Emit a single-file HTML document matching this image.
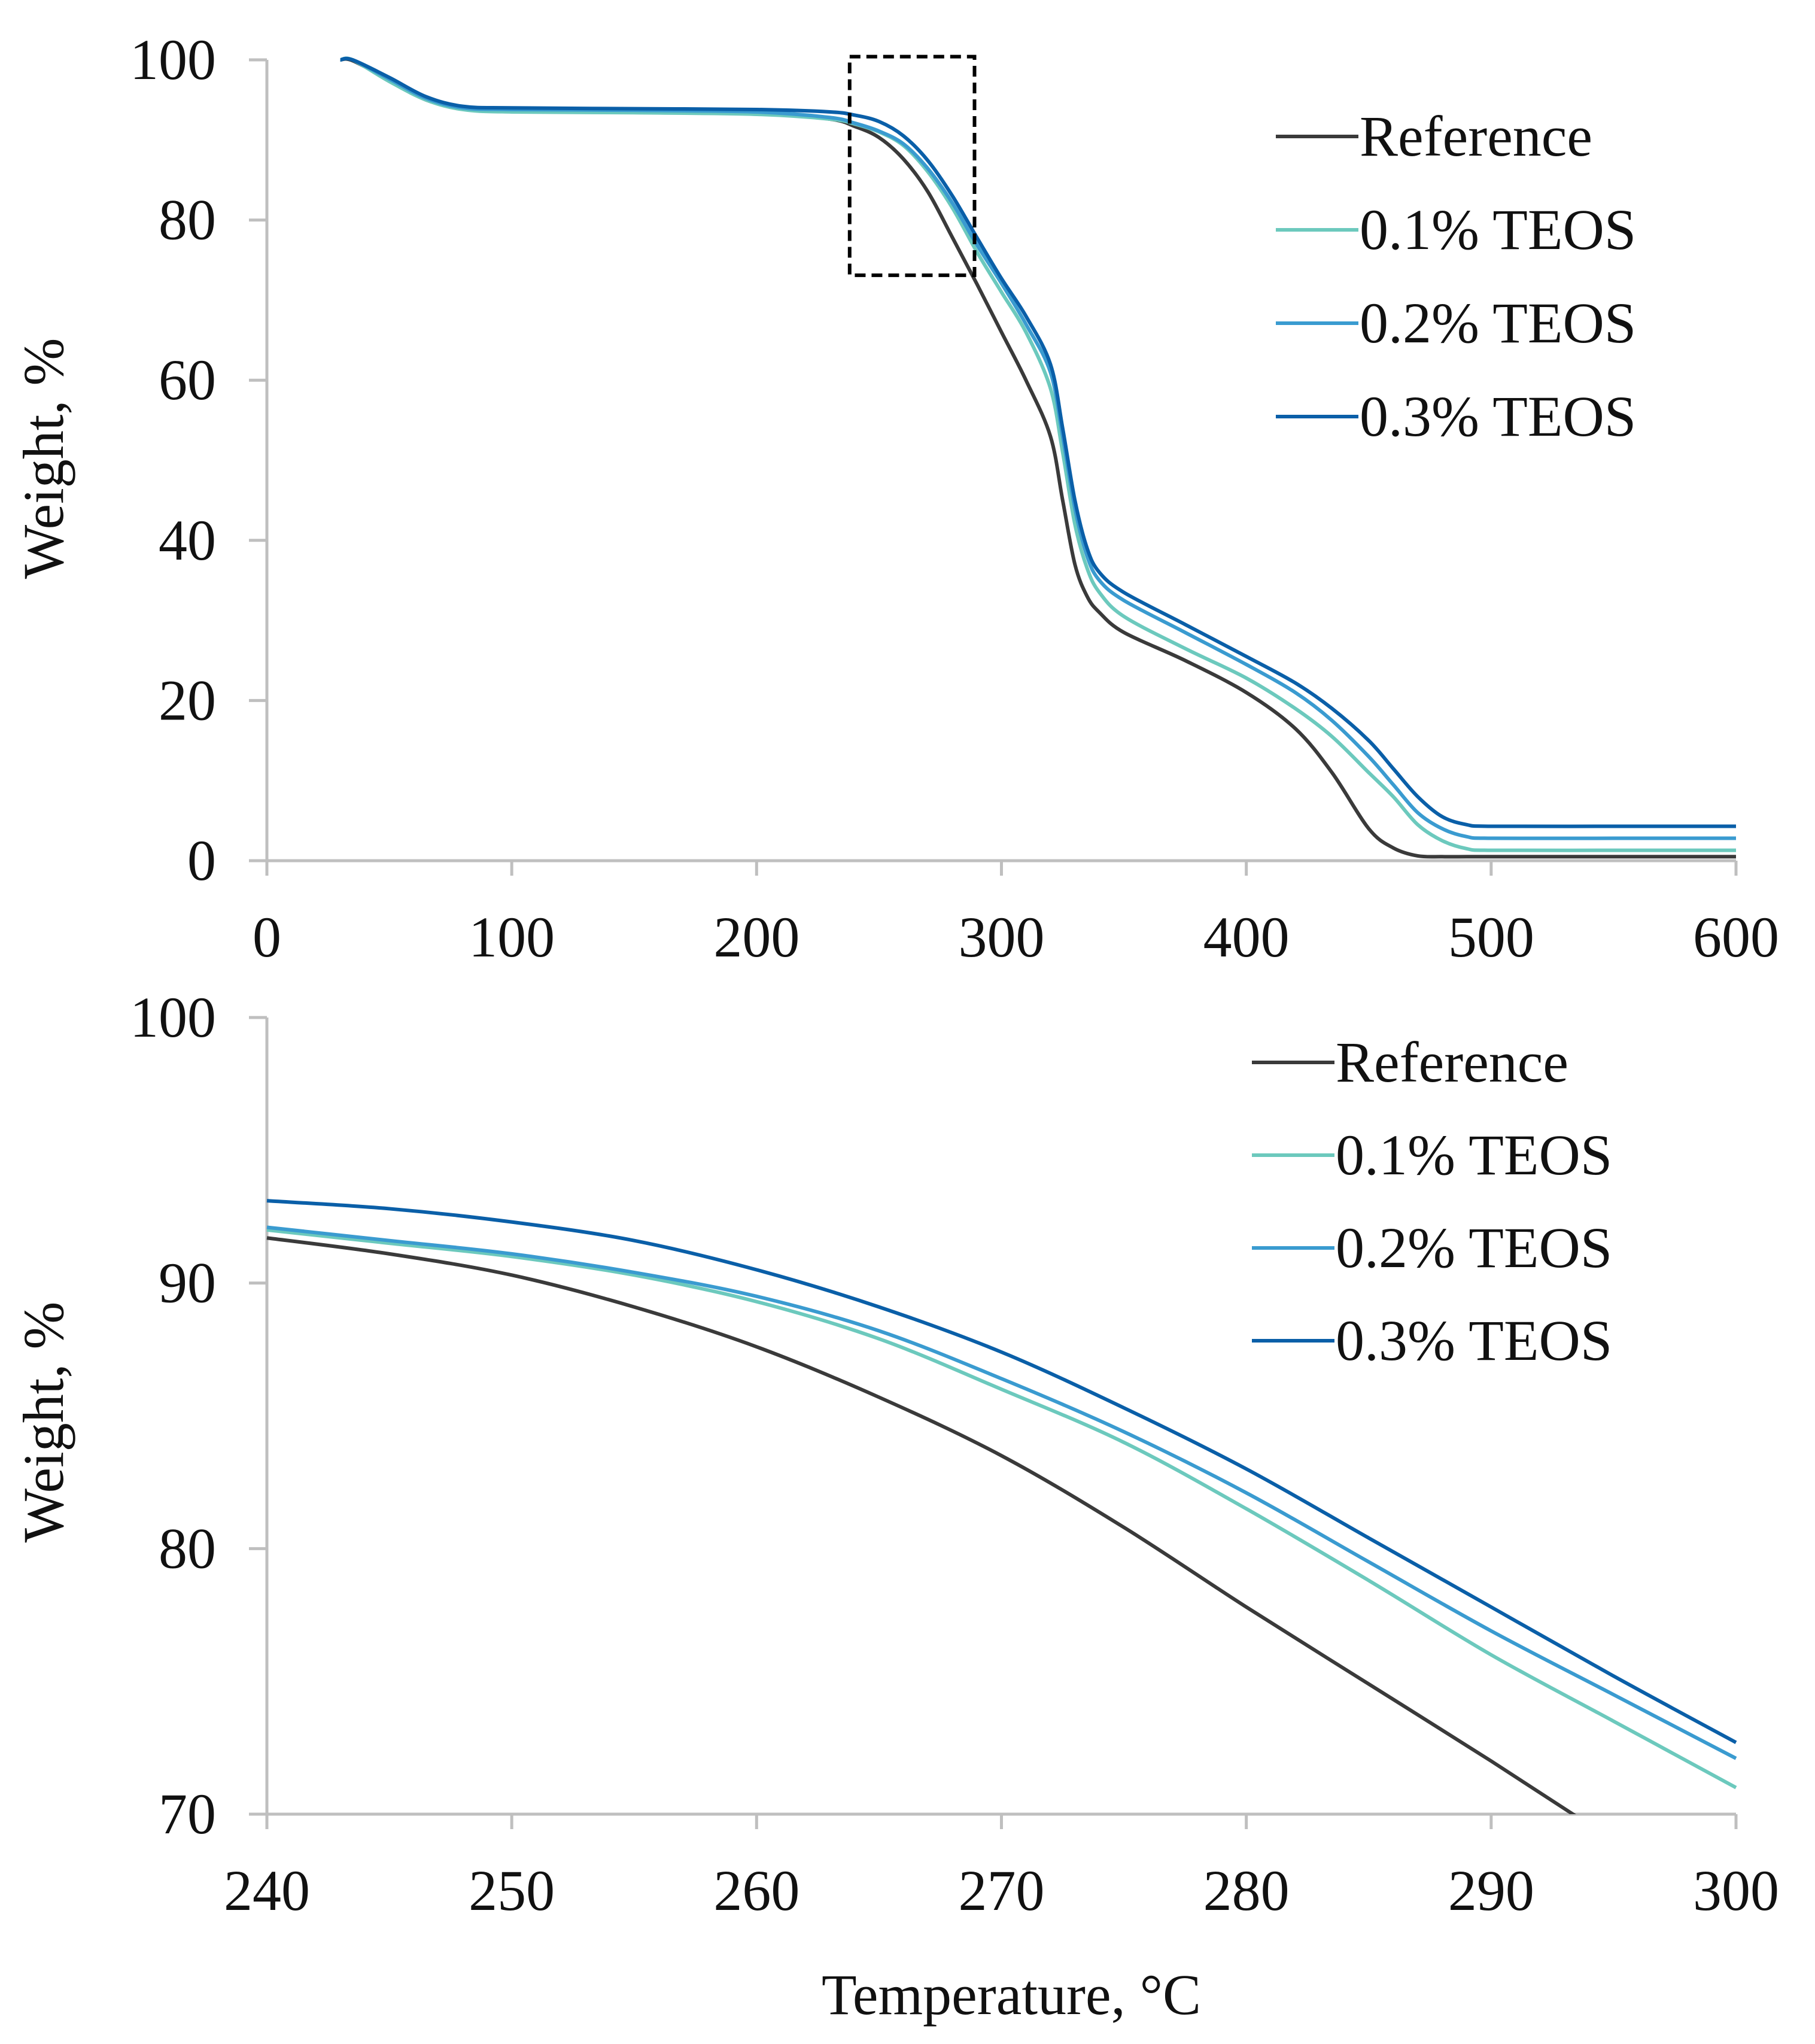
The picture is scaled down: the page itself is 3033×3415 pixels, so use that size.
<!DOCTYPE html>
<html><head><meta charset="utf-8"><style>
html,body{margin:0;padding:0;background:#fff}
svg{display:block}
text{font-family:"Liberation Serif",serif;fill:#111}
</style></head><body>
<svg id="fig" width="3033" height="3415" viewBox="0 0 3033 3415" xmlns="http://www.w3.org/2000/svg">
<defs><clipPath id="clipB"><rect x="440" y="1690" width="2480" height="1341"/></clipPath></defs>
<g id="top"></g>
<g id="bot"></g>
<text x="1690" y="3365" font-size="96" text-anchor="middle">Temperature, °C</text>
</svg>
<script>
const seriesNames = ["Reference","0.1% TEOS","0.2% TEOS","0.3% TEOS"];
const seriesColors = ["#3a3a3a","#6cc9bd","#3a9bd0","#0a5fa8"];
const topTemps = [30,35,50,65,80,100,150,200,230,240,250,260,270,280,290,300,310,320,325,330,335,340,350,375,400,420,435,450,460,470,480,490,500,550,600];
const topRef   = [100,99.9,97.5,95,94,93.8,93.6,93.4,92.6,91.7,90.3,87.6,83.5,77.8,72,66,60,53,45,37,33,31,28.5,25,21,16.5,11,4,1.6,0.6,0.5,0.5,0.5,0.5,0.5];
const top01    = [100,100,97.3,95,93.8,93.5,93.4,93.2,92.6,92,91,89.3,86,81.5,76,71,66,59,51,42,36.5,33.5,30.5,26.5,22.8,19,15.5,11,8,4.5,2.5,1.5,1.3,1.3,1.3];
const top02    = [100,100,97.6,95.2,94,93.8,93.7,93.5,92.8,92.1,91.1,89.5,86.4,82.1,76.9,72.1,67,61,53,44,38,35,32.5,28.5,24.5,21,17.5,13,9.5,6,4,3,2.8,2.8,2.8];
const top03    = [100,100,97.8,95.4,94.2,94,93.9,93.8,93.5,93.1,92.3,90.5,87.4,83,77.8,72.7,68,62,54,45,39,36,33.5,29.5,25.5,22.2,19,15,11.5,8,5.5,4.5,4.3,4.3,4.3];
const botTemps = [240,245,250,255,260,265,270,275,280,285,290,295,300];
const botRef   = [91.7,91.1,90.3,89.1,87.6,85.7,83.5,80.8,77.8,74.9,72,69,66];
const bot01    = [92,91.5,91,90.3,89.3,87.9,86,84,81.5,78.8,76,73.5,71];
const bot02    = [92.1,91.6,91.1,90.4,89.5,88.2,86.4,84.4,82.1,79.5,76.9,74.5,72.1];
const bot03    = [93.1,92.8,92.3,91.6,90.5,89.1,87.4,85.3,83,80.4,77.8,75.2,72.7];
const topXTicks = [0,100,200,300,400,500,600];
const topYTicks = [0,20,40,60,80,100];
const botXTicks = [240,250,260,270,280,290,300];
const botYTicks = [70,80,90,100];
const zoomBox = [238,289,73.1,100.4];

const NS="http://www.w3.org/2000/svg";
function mk(tag,attrs,parent){const e=document.createElementNS(NS,tag);for(const k in attrs)e.setAttribute(k,attrs[k]);parent.appendChild(e);return e;}
function smooth(pts){let d="M"+pts[0][0]+","+pts[0][1];for(let i=0;i<pts.length-1;i++){const p0=pts[Math.max(0,i-1)],p1=pts[i],p2=pts[i+1],p3=pts[Math.min(pts.length-1,i+2)];const c1=[p1[0]+(p2[0]-p0[0])/6,p1[1]+(p2[1]-p0[1])/6],c2=[p2[0]-(p3[0]-p1[0])/6,p2[1]-(p3[1]-p1[1])/6];d+=" C"+c1[0]+","+c1[1]+" "+c2[0]+","+c2[1]+" "+p2[0]+","+p2[1];}return d;}

function chart(g,cfg){
  const X=v=>cfg.x0+(v-cfg.xmin)/(cfg.xmax-cfg.xmin)*(cfg.x1-cfg.x0);
  const Y=v=>cfg.y0+(v-cfg.ymin)/(cfg.ymax-cfg.ymin)*(cfg.y1-cfg.y0);
  const ax=mk("path",{d:`M${cfg.x0},${cfg.y1} L${cfg.x0},${cfg.y0} L${cfg.x1},${cfg.y0}`,stroke:"#bfbfbf","stroke-width":5,fill:"none"},g);
  
  
  cfg.yt.forEach(v=>{
    const t=mk("line",{x1:cfg.x0-30,x2:cfg.x0,y1:Y(v),y2:Y(v),stroke:"#bfbfbf","stroke-width":5},g);
    
    
    const l=mk("text",{x:cfg.x0-85,y:Y(v)+32,"font-size":96,"text-anchor":"end"},g);l.textContent=v;
    
    
  });
  cfg.xt.forEach(v=>{
    const t=mk("line",{x1:X(v),x2:X(v),y1:cfg.y0,y2:cfg.y0+25,stroke:"#bfbfbf","stroke-width":5},g);
    
    
    const l=mk("text",{x:X(v),y:cfg.y0+160,"font-size":96,"text-anchor":"middle"},g);l.textContent=v;
    
    
  });
  const yt=mk("text",{x:0,y:0,"font-size":96,"text-anchor":"middle",transform:`translate(${cfg.titleX},${cfg.titleY}) rotate(-90)`},g);
  yt.textContent="Weight, %";
  
  
  const sg=mk("g",cfg.clip?{"clip-path":"url(#clipB)"}:{},g);
  cfg.series.forEach((s,i)=>{
    const p=mk("path",{d:smooth(cfg.xs.map((t,j)=>[X(t),Y(s[j])])),stroke:seriesColors[i],"stroke-width":6,fill:"none"},sg);
    
    
  });
  seriesNames.forEach((n,i)=>{
    const y=cfg.legY+i*cfg.legDy;
    const l=mk("line",{x1:cfg.legX,x2:cfg.legX+138,y1:y,y2:y,stroke:seriesColors[i],"stroke-width":6},g);
    
    
    const t=mk("text",{x:cfg.legX+140,y:y+32,"font-size":96},g);t.textContent=n;
    
    
  });
  return {X,Y};
}
const A=chart(document.getElementById("top"),{x0:446,x1:2901,y0:1438,y1:100,xmin:0,xmax:600,ymin:0,ymax:100,xt:topXTicks,yt:topYTicks,xs:topTemps,series:[topRef,top01,top02,top03],titleX:105,titleY:766,legX:2132,legY:228,legDy:156});
const B=chart(document.getElementById("bot"),{x0:446,x1:2901,y0:3031,y1:1700,xmin:240,xmax:300,ymin:70,ymax:100,xt:botXTicks,yt:botYTicks,xs:botTemps,series:[botRef,bot01,bot02,bot03],titleX:105,titleY:2376,legX:2092,legY:1775,legDy:155,clip:true});
const box=mk("rect",{x:A.X(zoomBox[0]),y:A.Y(zoomBox[3]),width:A.X(zoomBox[1])-A.X(zoomBox[0]),height:A.Y(zoomBox[2])-A.Y(zoomBox[3]),fill:"none",stroke:"#000","stroke-width":6,"stroke-dasharray":"18,10"},document.getElementById("top"));


</script>
</body></html>
